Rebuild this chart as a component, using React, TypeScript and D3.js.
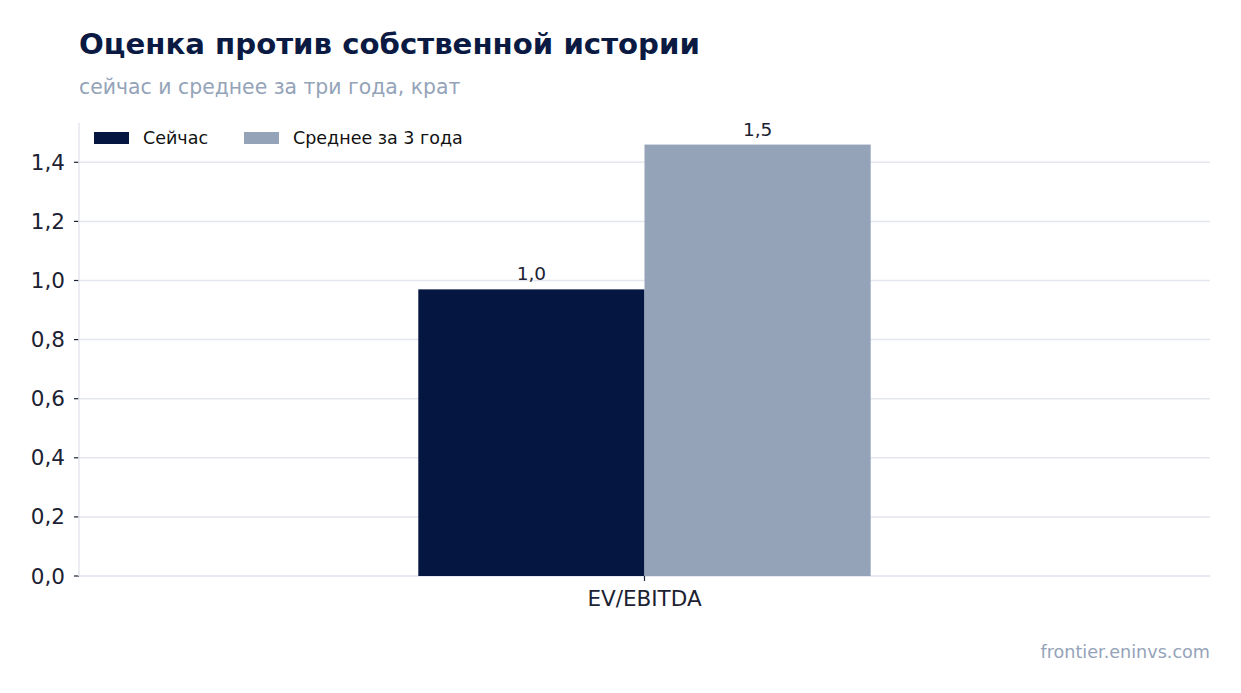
import React from "react";
import * as d3 from "d3";

const categories = ["EV/EBITDA"];
const seriesNames = ["Сейчас", "Среднее за 3 года"];
const nowValues = [0.97];
const avgValues = [1.46];
const yTicks = [0, 0.2, 0.4, 0.6, 0.8, 1.0, 1.2, 1.4];

const W = 1241;
const H = 693;
const FONT = "'DejaVu Sans', sans-serif";
const DARK = "#051640";
const GRAY = "#94a3b8";
const GRID = "#e4e7ee";
const TEXT = "#1c2233";

const fmt = (v: number) => v.toFixed(1).replace(".", ",");

export default function App() {
  const left = 79, right = 1210, top = 123, bottom = 576;
  const yMax = d3.max([...nowValues, ...avgValues])! * 1.05;
  const y = d3.scaleLinear().domain([0, yMax]).range([bottom, top]);
  const x = d3.scaleLinear().domain([-1, 1]).range([left, right]);
  const barW = 0.4;
  const series = [
    { name: seriesNames[0], values: nowValues, color: DARK, offset: -barW / 2 },
    { name: seriesNames[1], values: avgValues, color: GRAY, offset: barW / 2 },
  ];

  return (
    <div style={{ position: "fixed", left: 0, top: 0 }}>
      <svg width={W} height={H} style={{ display: "block", background: "#fff" }} fontFamily={FONT}>
        <text x={79} y={54} fontSize={29.2} fontWeight="bold" fill="#0b1a42">
          Оценка против собственной истории
        </text>
        <text x={79} y={94} fontSize={20.4} fill={GRAY}>
          сейчас и среднее за три года, крат
        </text>

        {yTicks.map((t) => (
          <g key={t}>
            <line x1={left} x2={right} y1={y(t)} y2={y(t)} stroke={GRID} strokeWidth={1.5} />
            <line x1={left - 5} x2={left} y1={y(t)} y2={y(t)} stroke={TEXT} strokeWidth={1.2} />
            <text x={left - 14} y={y(t)} dy="0.35em" textAnchor="end" fontSize={21.5} fill={TEXT}>
              {fmt(t)}
            </text>
          </g>
        ))}

        <line x1={left} x2={left} y1={top} y2={bottom} stroke={GRID} strokeWidth={1.5} />
        <line x1={left} x2={right} y1={bottom} y2={bottom} stroke={GRID} strokeWidth={1.5} />

        {categories.map((c, i) => (
          <g key={c}>
            {series.map((s) => {
              const x0 = x(i + s.offset - barW / 2);
              const x1 = x(i + s.offset + barW / 2);
              const v = s.values[i];
              return (
                <g key={s.name}>
                  <rect x={x0} y={y(v)} width={x1 - x0} height={y(0) - y(v)} fill={s.color} />
                  <text x={(x0 + x1) / 2} y={y(v) - 9} textAnchor="middle" fontSize={18.5} fill={TEXT}>
                    {fmt(v)}
                  </text>
                </g>
              );
            })}
            <line x1={x(i)} x2={x(i)} y1={bottom} y2={bottom + 5} stroke={TEXT} strokeWidth={1.2} />
            <text x={x(i)} y={606} textAnchor="middle" fontSize={21.5} fill={TEXT}>
              {c}
            </text>
          </g>
        ))}

        {series.map((s, k) => {
          const lx = k === 0 ? 94 : 244;
          return (
            <g key={s.name}>
              <rect x={lx} y={132} width={35} height={12} fill={s.color} />
              <text x={lx + 49} y={144} fontSize={17.5} fill="#111">
                {s.name}
              </text>
            </g>
          );
        })}

        <text x={1210} y={658} textAnchor="end" fontSize={17.6} fill={GRAY}>
          frontier.eninvs.com
        </text>
      </svg>
    </div>
  );
}
